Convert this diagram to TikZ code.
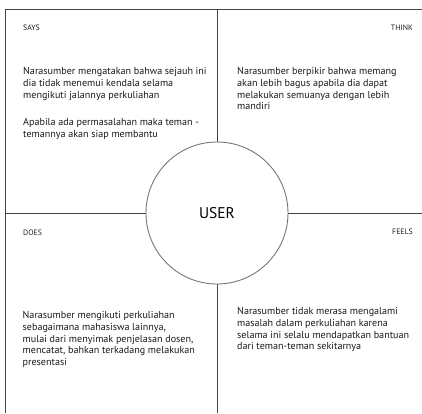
\documentclass[tikz,border=0pt]{standalone}
\usepackage{fontspec}
\setmainfont{PT Sans}
\definecolor{linec}{HTML}{444444}
\definecolor{circc}{HTML}{777777}
\definecolor{txtc}{HTML}{1A1A1A}
\tikzset{
  body/.style={anchor=north west, inner sep=0pt, align=left, text=txtc,
    font=\fontsize{10.1}{11.6}\selectfont},
  tag/.style={inner sep=0pt, text=txtc, font=\fontsize{7.8}{8}\selectfont},
  grid/.style={draw=linec, line width=1pt},
}
\begin{document}
\begin{tikzpicture}[x=1pt,y=-1pt]
\useasboundingbox (0,0) rectangle (422,413);
\fill[white] (0,0) rectangle (422,413);
\node[circle, draw=circc, line width=0.9pt, minimum size=142pt, inner sep=0pt,
  font=\fontsize{15.5}{16}\selectfont, text=black] (user) at (217,213) {USER};
\coordinate (tl) at (5,9);
\coordinate (tr) at (422,9);
\coordinate (bl) at (5,413);
\coordinate (top) at (217,9);
\coordinate (bot) at (217,413);
\coordinate (lft) at (5,213);
\coordinate (rgt) at (422,213);
\draw[grid] (bl) -- (tl) -- (tr);
\draw[grid] (top) -- (user.north);
\draw[grid] (user.south) -- (bot);
\draw[grid] (lft) -- (user.west);
\draw[grid] (user.east) -- (rgt);
\node[tag, anchor=west] (says) at (23,28) {SAYS};
\node[tag, anchor=east] (think) at (413,28) {THINK};
\node[tag, anchor=west] (does) at (23,232.5) {DOES};
\node[tag, anchor=east] (feels) at (413,232) {FEELS};
\node[body] (saysb) at (23,67.5) {Narasumber mengatakan bahwa sejauh ini\\dia tidak menemui kendala selama\\mengikuti jalannya perkuliahan\\[4.5pt]\\Apabila ada permasalahan maka teman -\\temannya akan siap membantu};
\node[body] (thinkb) at (237,67.5) {Narasumber berpikir bahwa memang\\akan lebih bagus apabila dia dapat\\melakukan semuanya dengan lebih\\mandiri};
\node[body] (doesb) at (22.5,311.5) {Narasumber mengikuti perkuliahan\\sebagaimana mahasiswa lainnya,\\mulai dari menyimak penjelasan dosen,\\mencatat, bahkan terkadang melakukan\\presentasi};
\node[body] (feelsb) at (237,307.5) {Narasumber tidak merasa mengalami\\masalah dalam perkuliahan karena\\selama ini selalu mendapatkan bantuan\\dari teman-teman sekitarnya};
\end{tikzpicture}
\end{document}
